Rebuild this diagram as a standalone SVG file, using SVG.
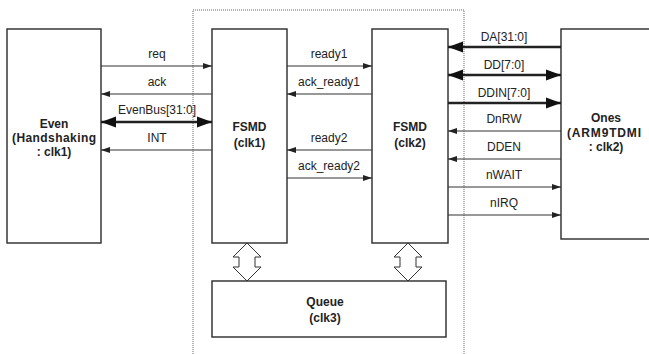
<svg xmlns="http://www.w3.org/2000/svg" width="649" height="354" viewBox="0 0 649 354">
<style>
.box{fill:#fff;stroke:#2a2a2a;stroke-width:1.4}
.lbl{font-family:"Liberation Sans",Arial,sans-serif;font-size:12px;fill:#222;text-anchor:middle}
.ttl{font-family:"Liberation Sans",Arial,sans-serif;font-size:12px;font-weight:bold;fill:#222;text-anchor:middle}
.thin{stroke:#333;stroke-width:1.1;fill:none}
.thick{stroke:#222;stroke-width:2.6;fill:none}
.dot{stroke:#666;stroke-width:1;stroke-dasharray:1,1;fill:none}
.hollow{fill:#fff;stroke:#333;stroke-width:1}
</style>
<defs>
<marker id="sm" markerUnits="userSpaceOnUse" markerWidth="10" markerHeight="8" refX="9" refY="4" orient="auto-start-reverse">
<path d="M0,1 L9,4 L0,7 Z" fill="#222"/>
</marker>
<marker id="bg" markerUnits="userSpaceOnUse" markerWidth="16" markerHeight="12" refX="15" refY="6" orient="auto-start-reverse">
<path d="M0,0.5 L15,6 L0,11.5 Z" fill="#111"/>
</marker>
</defs>
<path class="dot" d="M193,360 V10 H464 V360"/>
<g id="even"><rect class="box" x="7" y="29" width="94" height="214"/>
<text class="ttl" x="54" y="128">Even</text><text class="ttl" x="54" y="142" textLength="84" lengthAdjust="spacing">(Handshaking</text><text class="ttl" x="54" y="156">: clk1)</text></g>
<g id="fsmd1"><rect class="box" x="212" y="29" width="75" height="214"/>
<text class="ttl" x="249.5" y="131">FSMD</text><text class="ttl" x="249.5" y="147">(clk1)</text></g>
<g id="fsmd2"><rect class="box" x="372" y="29" width="76" height="214"/>
<text class="ttl" x="410" y="131">FSMD</text><text class="ttl" x="410" y="147">(clk2)</text></g>
<g id="ones"><rect class="box" x="561" y="29" width="100" height="210"/>
<text class="ttl" x="606" y="122">Ones</text><text class="ttl" x="604" y="137" textLength="74" lengthAdjust="spacing">(ARM9TDMI</text><text class="ttl" x="606" y="151">: clk2)</text></g>
<g id="queue"><rect class="box" x="212" y="281" width="234" height="56"/>
<text class="ttl" x="325" y="306">Queue</text><text class="ttl" x="325" y="322">(clk3)</text></g>
<g id="connectors">
<line class="thin" x1="101" y1="66" x2="212" y2="66" marker-end="url(#sm)"/>
<line class="thin" x1="212" y1="94" x2="101" y2="94" marker-end="url(#sm)"/>
<line class="thick" x1="101" y1="122" x2="212" y2="122" marker-start="url(#bg)" marker-end="url(#bg)"/>
<line class="thin" x1="212" y1="150" x2="101" y2="150" marker-end="url(#sm)"/>
<line class="thin" x1="287" y1="66" x2="372" y2="66" marker-end="url(#sm)"/>
<line class="thin" x1="372" y1="94" x2="287" y2="94" marker-end="url(#sm)"/>
<line class="thin" x1="372" y1="150" x2="287" y2="150" marker-end="url(#sm)"/>
<line class="thin" x1="287" y1="178" x2="372" y2="178" marker-end="url(#sm)"/>
<line class="thick" x1="561" y1="47" x2="448" y2="47" stroke-width="2" marker-end="url(#bg)"/>
<line class="thick" x1="448" y1="75" x2="561" y2="75" marker-start="url(#bg)" marker-end="url(#bg)"/>
<line class="thick" x1="448" y1="103" x2="561" y2="103" stroke-width="2" marker-end="url(#bg)"/>
<line class="thin" x1="561" y1="131" x2="448" y2="131" marker-end="url(#sm)"/>
<line class="thin" x1="561" y1="159" x2="448" y2="159" marker-end="url(#sm)"/>
<line class="thin" x1="448" y1="187" x2="561" y2="187" marker-end="url(#sm)"/>
<line class="thin" x1="448" y1="215" x2="561" y2="215" marker-end="url(#sm)"/>
<path class="hollow" d="M247,243 L233,257 H239 V267 H233 L247,281 L261,267 H255 V257 H261 Z"/>
<path class="hollow" d="M408,243 L394,257 H400 V267 H394 L408,281 L422,267 H416 V257 H422 Z"/>
<text class="lbl" x="157" y="57.5">req</text>
<text class="lbl" x="157" y="85.5">ack</text>
<text class="lbl" x="157" y="113.5">EvenBus[31:0]</text>
<text class="lbl" x="157" y="141.5">INT</text>
<text class="lbl" x="329" y="57.5">ready1</text>
<text class="lbl" x="329" y="85.5">ack_ready1</text>
<text class="lbl" x="329" y="141.5">ready2</text>
<text class="lbl" x="329" y="169.5">ack_ready2</text>
<text class="lbl" x="504" y="40.5">DA[31:0]</text>
<text class="lbl" x="504" y="68.5">DD[7:0]</text>
<text class="lbl" x="504" y="96.5">DDIN[7:0]</text>
<text class="lbl" x="504" y="122.5">DnRW</text>
<text class="lbl" x="504" y="150.5">DDEN</text>
<text class="lbl" x="504" y="178.5">nWAIT</text>
<text class="lbl" x="504" y="206.5">nIRQ</text>
</g>
</svg>
